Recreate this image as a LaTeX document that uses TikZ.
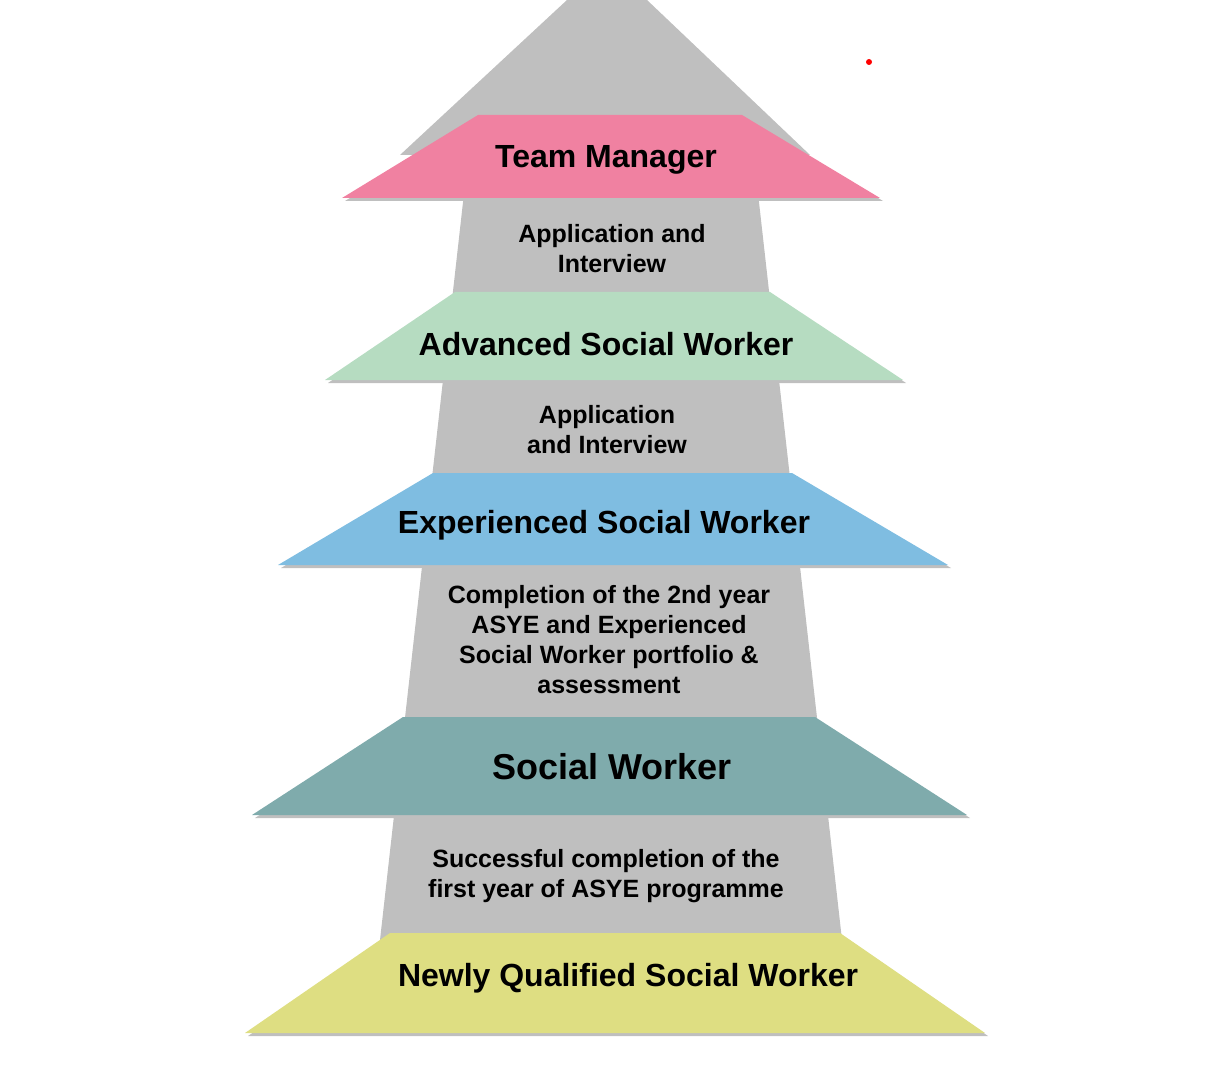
\documentclass[tikz,border=0pt]{standalone}
\usepackage{fontspec}
\setmainfont{Liberation Sans}
\usetikzlibrary{positioning}
\definecolor{trunkgrey}{HTML}{BFBFBF}
\definecolor{tmpink}{HTML}{F081A1}
\definecolor{aswgreen}{HTML}{B6DCC1}
\definecolor{eswblue}{HTML}{7FBDE1}
\definecolor{swteal}{HTML}{7FABAC}
\definecolor{nqyellow}{HTML}{DEDE82}
\tikzset{
  band/.style = {draw=none, drop shadow/.style={}},
  bandshadow/.style = {fill=black!25},
  rank/.style = {font=\bfseries\fontsize{16}{18}\selectfont, align=center},
  step_txt/.style = {font=\bfseries\fontsize{12.5}{15}\selectfont, align=center}
}
\begin{document}
\begin{tikzpicture}[x=0.5pt,y=-0.5pt]
\useasboundingbox (0,0) rectangle (1224,1085);
% trunk and arrow head
\fill[trunkgrey] (567,0) -- (647,0) -- (810,155) -- (400,155) -- cycle;
\fill[trunkgrey] (470,140) -- (752,140) -- (842,940) -- (380,940) -- cycle;
% bands
\foreach \ty/\tl/\tr/\by/\bl/\br/\col in {
   115/478/742/198/342/880/tmpink,
   292/455/770/380/325/903/aswgreen,
   473/433/792/565/278/948/eswblue,
   717/403/815/815/252/967/swteal,
   933/390/840/1033/245/985/nqyellow}{
  \fill[bandshadow] (\tl+3,\ty+3) -- (\tr+3,\ty+3) -- (\br+3,\by+3) -- (\bl+3,\by+3) -- cycle;
  \fill[\col] (\tl,\ty) -- (\tr,\ty) -- (\br,\by) -- (\bl,\by) -- cycle;
}
% ranks
\node (tm)  [rank] at (606,160) {Team Manager};
\node (asw) [rank] at (606,344) {Advanced Social Worker};
\node (esw) [rank] at (604,525) {Experienced Social Worker};
\node (sw)  [rank, font=\bfseries\fontsize{18}{20}\selectfont] at (612,767) {Social Worker};
\node (nq)  [rank] at (628,978) {Newly Qualified Social Worker};
% steps
\node (s1) [step_txt] at (612,249) {Application and\\Interview};
\node (s2) [step_txt] at (607,430) {Application\\and Interview};
\node (s3) [step_txt] at (609,640) {Completion of the 2nd year\\ASYE and Experienced\\ Social Worker portfolio \&\\assessment};
\node (s4) [step_txt] at (606,876) {Successful completion of the\\first year of ASYE programme};
\fill[red] (869,62) circle (3);
\end{tikzpicture}
\end{document}
